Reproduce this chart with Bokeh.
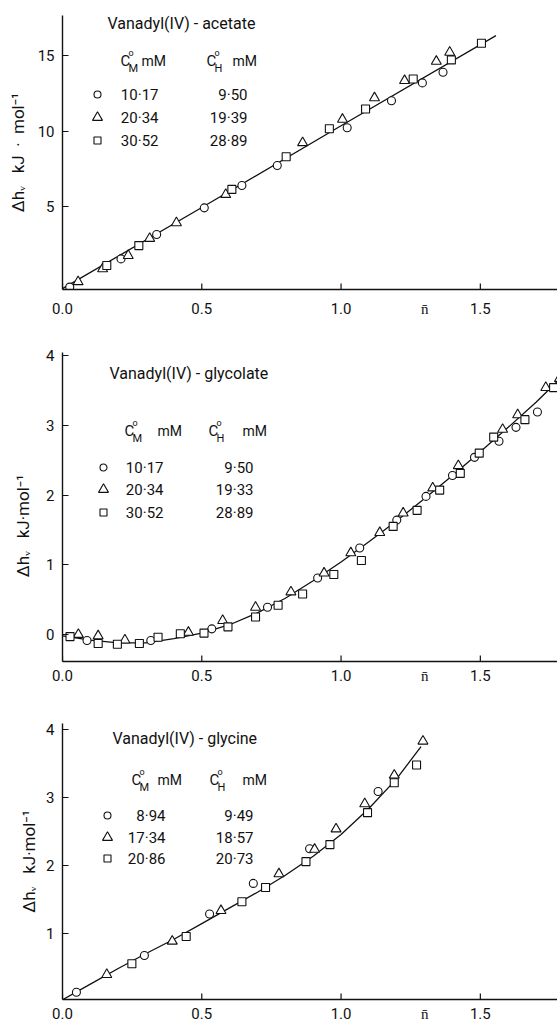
from bokeh.plotting import figure
from bokeh.layouts import column
from bokeh.models import Range1d, FixedTicker, Label, NumeralTickFormatter
from bokeh.embed import file_html
from bokeh.resources import INLINE

FONT = "Roboto"
INK = "#111111"

# ---------------- Panel 1 : Vanadyl(IV) - acetate ----------------
ac_title = "Vanadyl(IV) - acetate"
ac_cm = ["10\u00b717", "20\u00b734", "30\u00b752"]
ac_ch = ["9\u00b750", "19\u00b739", "28\u00b789"]
ac_circle_x = [0.026, 0.21, 0.338, 0.509, 0.644, 0.771, 1.022, 1.181, 1.292, 1.366]
ac_circle_y = [-0.30, 1.56, 3.17, 4.93, 6.41, 7.73, 10.22, 12.00, 13.18, 13.88]
ac_tri_x = [0.056, 0.144, 0.236, 0.313, 0.409, 0.586, 0.862, 1.005, 1.12, 1.228, 1.342, 1.39]
ac_tri_y = [0.05, 0.90, 1.78, 2.91, 3.94, 5.81, 9.23, 10.77, 12.19, 13.33, 14.60, 15.20]
ac_sq_x = [0.159, 0.274, 0.608, 0.803, 0.958, 1.088, 1.259, 1.396, 1.504]
ac_sq_y = [1.12, 2.44, 6.15, 8.30, 10.15, 11.46, 13.44, 14.70, 15.80]
ac_fit_x = [0.0, 0.5, 1.0, 1.556]
ac_fit_y = [-0.40, 4.95, 10.35, 16.30]
ac_yticks = [5, 10, 15]

# ---------------- Panel 2 : Vanadyl(IV) - glycolate ----------------
gl_title = "Vanadyl(IV) - glycolate"
gl_cm = ["10\u00b717", "20\u00b734", "30\u00b752"]
gl_ch = ["9\u00b750", "19\u00b733", "28\u00b789"]
gl_circle_x = [0.088, 0.317, 0.536, 0.736, 0.916, 1.067, 1.20, 1.305, 1.40, 1.479, 1.567, 1.628, 1.705]
gl_circle_y = [-0.086, -0.086, 0.081, 0.39, 0.81, 1.24, 1.64, 1.98, 2.28, 2.54, 2.77, 2.97, 3.19]
gl_tri_x = [0.057, 0.128, 0.224, 0.452, 0.575, 0.693, 0.820, 0.939, 1.035, 1.139, 1.223, 1.329,
            1.421, 1.58, 1.634, 1.735, 1.784]
gl_tri_y = [0.0, -0.02, -0.08, 0.03, 0.20, 0.39, 0.61, 0.88, 1.17, 1.46, 1.74, 2.10,
            2.42, 2.94, 3.15, 3.54, 3.67]
gl_sq_x = [0.027, 0.128, 0.197, 0.276, 0.343, 0.423, 0.508, 0.594, 0.693, 0.774, 0.862, 0.974,
           1.073, 1.187, 1.273, 1.354, 1.428, 1.496, 1.548, 1.660, 1.763]
gl_sq_y = [-0.03, -0.13, -0.14, -0.13, -0.04, 0.01, 0.02, 0.11, 0.25, 0.42, 0.58, 0.86,
           1.06, 1.55, 1.78, 2.07, 2.31, 2.60, 2.83, 3.08, 3.54]
gl_fit_x = [0.0, 0.1, 0.2, 0.3, 0.4, 0.5, 0.6, 0.7, 0.8, 0.9, 1.0, 1.1, 1.2, 1.3, 1.4, 1.5, 1.6, 1.7, 1.8]
gl_fit_y = [-0.02, -0.08, -0.12, -0.12, -0.06, 0.02, 0.14, 0.31, 0.52, 0.77, 1.04, 1.33, 1.63,
            1.95, 2.28, 2.62, 2.97, 3.33, 3.72]
gl_yticks = [0, 1, 2, 3, 4]

# ---------------- Panel 3 : Vanadyl(IV) - glycine ----------------
gy_title = "Vanadyl(IV) - glycine"
gy_cm = ["8\u00b794", "17\u00b734", "20\u00b786"]
gy_ch = ["9\u00b749", "18\u00b757", "20\u00b773"]
gy_circle_x = [0.05, 0.294, 0.528, 0.685, 0.887, 1.133]
gy_circle_y = [0.14, 0.68, 1.29, 1.74, 2.25, 3.09]
gy_tri_x = [0.159, 0.394, 0.569, 0.777, 0.905, 0.982, 1.085, 1.191, 1.294]
gy_tri_y = [0.40, 0.89, 1.34, 1.88, 2.24, 2.54, 2.91, 3.33, 3.83]
gy_sq_x = [0.249, 0.444, 0.644, 0.729, 0.874, 0.960, 1.095, 1.191, 1.271]
gy_sq_y = [0.56, 0.96, 1.47, 1.68, 2.06, 2.31, 2.78, 3.22, 3.48]
gy_fit_x = [0.0, 0.1, 0.2, 0.3, 0.4, 0.5, 0.6, 0.7, 0.8, 0.9, 1.0, 1.1, 1.2, 1.287]
gy_fit_y = [0.03, 0.26, 0.49, 0.71, 0.92, 1.15, 1.38, 1.61, 1.86, 2.14, 2.46, 2.84, 3.28, 3.75]
gy_yticks = [1, 2, 3, 4]

x_ticks = [0.0, 0.5, 1.0, 1.5]
NBAR_X = 1.3                      # where the axis title "n-bar" sits, among the tick labels
NBAR = "n\u0304"
NBSP = "\u00a0"

# ---------------- layout constants (page pixels) ----------------
FL = 62           # left border
FW = 495          # frame width
X_END = 1.777
TICK_LEN = 6

specs = [
    dict(page_top=0, bt=15, fh=274, bb=36, yr=(-0.46, 17.63), yticks=ac_yticks, xstand=10, ylstand=7,
         ylabel="\u0394h\u1d65" + NBSP * 3 + "kJ" + NBSP * 2 + "\u00b7" + NBSP * 2 + "mol\u207b\u00b9",
         title=ac_title, cm=ac_cm, ch=ac_ch,
         circ=(ac_circle_x, ac_circle_y), tri=(ac_tri_x, ac_tri_y), sq=(ac_sq_x, ac_sq_y),
         fit=(ac_fit_x, ac_fit_y),
         t_pos=(107, 23), hy=60, cmx=120, mmx=141, chx=206, mhx=232,
         rows=[94, 117, 140], mkx=97, c1=158, c2=247),
    dict(page_top=325, bt=27, fh=309, bb=30, yr=(-0.387, 4.043), yticks=gl_yticks, xstand=5, ylstand=10,
         ylabel="\u0394h\u1d65" + NBSP * 3 + "kJ\u00b7mol\u207b\u00b9" + NBSP * 9,
         title=gl_title, cm=gl_cm, ch=gl_ch,
         circ=(gl_circle_x, gl_circle_y), tri=(gl_tri_x, gl_tri_y), sq=(gl_sq_x, gl_sq_y),
         fit=(gl_fit_x, gl_fit_y),
         t_pos=(109, 373), hy=430, cmx=124, mmx=157, chx=208, mhx=242,
         rows=[467, 489, 512], mkx=103, c1=163, c2=253),
    dict(page_top=691, bt=32, fh=276, bb=24, yr=(0.034, 4.09), yticks=gy_yticks, xstand=5, ylstand=4,
         ylabel="\u0394h\u1d65" + NBSP * 3 + "kJ\u00b7mol\u207b\u00b9",
         title=gy_title, cm=gy_cm, ch=gy_ch,
         circ=(gy_circle_x, gy_circle_y), tri=(gy_tri_x, gy_tri_y), sq=(gy_sq_x, gy_sq_y),
         fit=(gy_fit_x, gy_fit_y),
         t_pos=(112, 738), hy=779, cmx=131, mmx=157, chx=209, mhx=242,
         rows=[815, 837, 858], mkx=107, c1=165, c2=253),
]


def make_panel(s):
    y0, y1 = s["yr"]
    ftop = s["page_top"] + s["bt"]
    fleft = FL
    ppu_y = s["fh"] / (y1 - y0)

    def M(px, py):
        return ((px - fleft) / FW * X_END, y1 - (py - ftop) / ppu_y)

    p = figure(frame_width=FW, frame_height=s["fh"], min_border_left=FL, min_border_right=0,
               min_border_top=s["bt"], min_border_bottom=s["bb"],
               x_range=Range1d(0, X_END), y_range=Range1d(y0, y1),
               output_backend="svg", toolbar_location=None)
    p.xgrid.visible = False
    p.ygrid.visible = False
    p.outline_line_color = None
    for ax in (p.xaxis[0], p.yaxis[0]):
        ax.axis_line_width = 1.4
        ax.axis_line_color = INK
        ax.major_tick_in = TICK_LEN
        ax.major_tick_out = 0
        ax.major_tick_line_width = 1.2
        ax.major_tick_line_color = INK
        ax.minor_tick_line_color = None
        ax.major_label_text_font = FONT
        ax.major_label_text_font_size = "15px"
        ax.major_label_text_color = INK
    # x axis: labels for the ticks plus the axis symbol n-bar; tick marks drawn below
    p.xaxis.ticker = FixedTicker(ticks=x_ticks + [NBAR_X])
    p.xaxis.formatter = NumeralTickFormatter(format="0.0")
    p.xaxis.major_label_overrides = {NBAR_X: NBAR}
    p.xaxis.major_tick_line_color = None
    p.xaxis.major_label_standoff = s["xstand"]
    p.yaxis.ticker = FixedTicker(ticks=s["yticks"])
    p.yaxis.major_label_standoff = 8
    p.yaxis.axis_label = s["ylabel"]
    p.yaxis.axis_label_text_font = FONT
    p.yaxis.axis_label_text_font_style = "normal"
    p.yaxis.axis_label_text_font_size = "17px"
    p.yaxis.axis_label_text_color = INK
    p.yaxis.axis_label_standoff = s["ylstand"]

    # inward tick marks of the x axis
    p.segment(x0=x_ticks, y0=[y0] * len(x_ticks), x1=x_ticks,
              y1=[y0 + TICK_LEN / ppu_y] * len(x_ticks), line_color=INK, line_width=1.2)

    fx, fy = s["fit"]
    p.line(fx, fy, line_color=INK, line_width=1.3)
    mk = dict(fill_color="white", line_color=INK, line_width=1.1)
    p.scatter(*s["circ"], marker="circle", size=8, **mk)
    p.scatter(*s["tri"], marker="triangle", size=10, **mk)
    p.scatter(*s["sq"], marker="square", size=8, **mk)

    def T(px, py, text, size=15, align="left"):
        x, y = M(px, py)
        p.add_layout(Label(x=x, y=y, text=text, text_font=FONT, text_font_size=f"{size}px",
                           text_align=align, text_baseline="middle", text_color=INK))

    # title
    T(s["t_pos"][0], s["t_pos"][1], s["title"], size=16)
    # header C°M mM   C°H mM
    hy = s["hy"]
    for cx, sub, mx in ((s["cmx"], "M", s["mmx"]), (s["chx"], "H", s["mhx"])):
        T(cx, hy, "C", size=15)
        T(cx + 8, hy - 8, "o", size=9)
        T(cx + 8, hy + 8, sub, size=11)
        T(mx, hy, "mM", size=14)
    # rows
    for (ry, marker, v1, v2) in zip(s["rows"], ["circle", "triangle", "square"], s["cm"], s["ch"]):
        x, y = M(s["mkx"], ry)
        p.scatter([x], [y], marker=marker, size=(10 if marker == "triangle" else 7), **mk)
        T(s["c1"], ry, v1, align="right")
        T(s["c2"], ry, v2, align="right")
    return p


panels = [make_panel(s) for s in specs]
layout = column(*panels)
open("out.html", "w").write(file_html(layout, INLINE))
